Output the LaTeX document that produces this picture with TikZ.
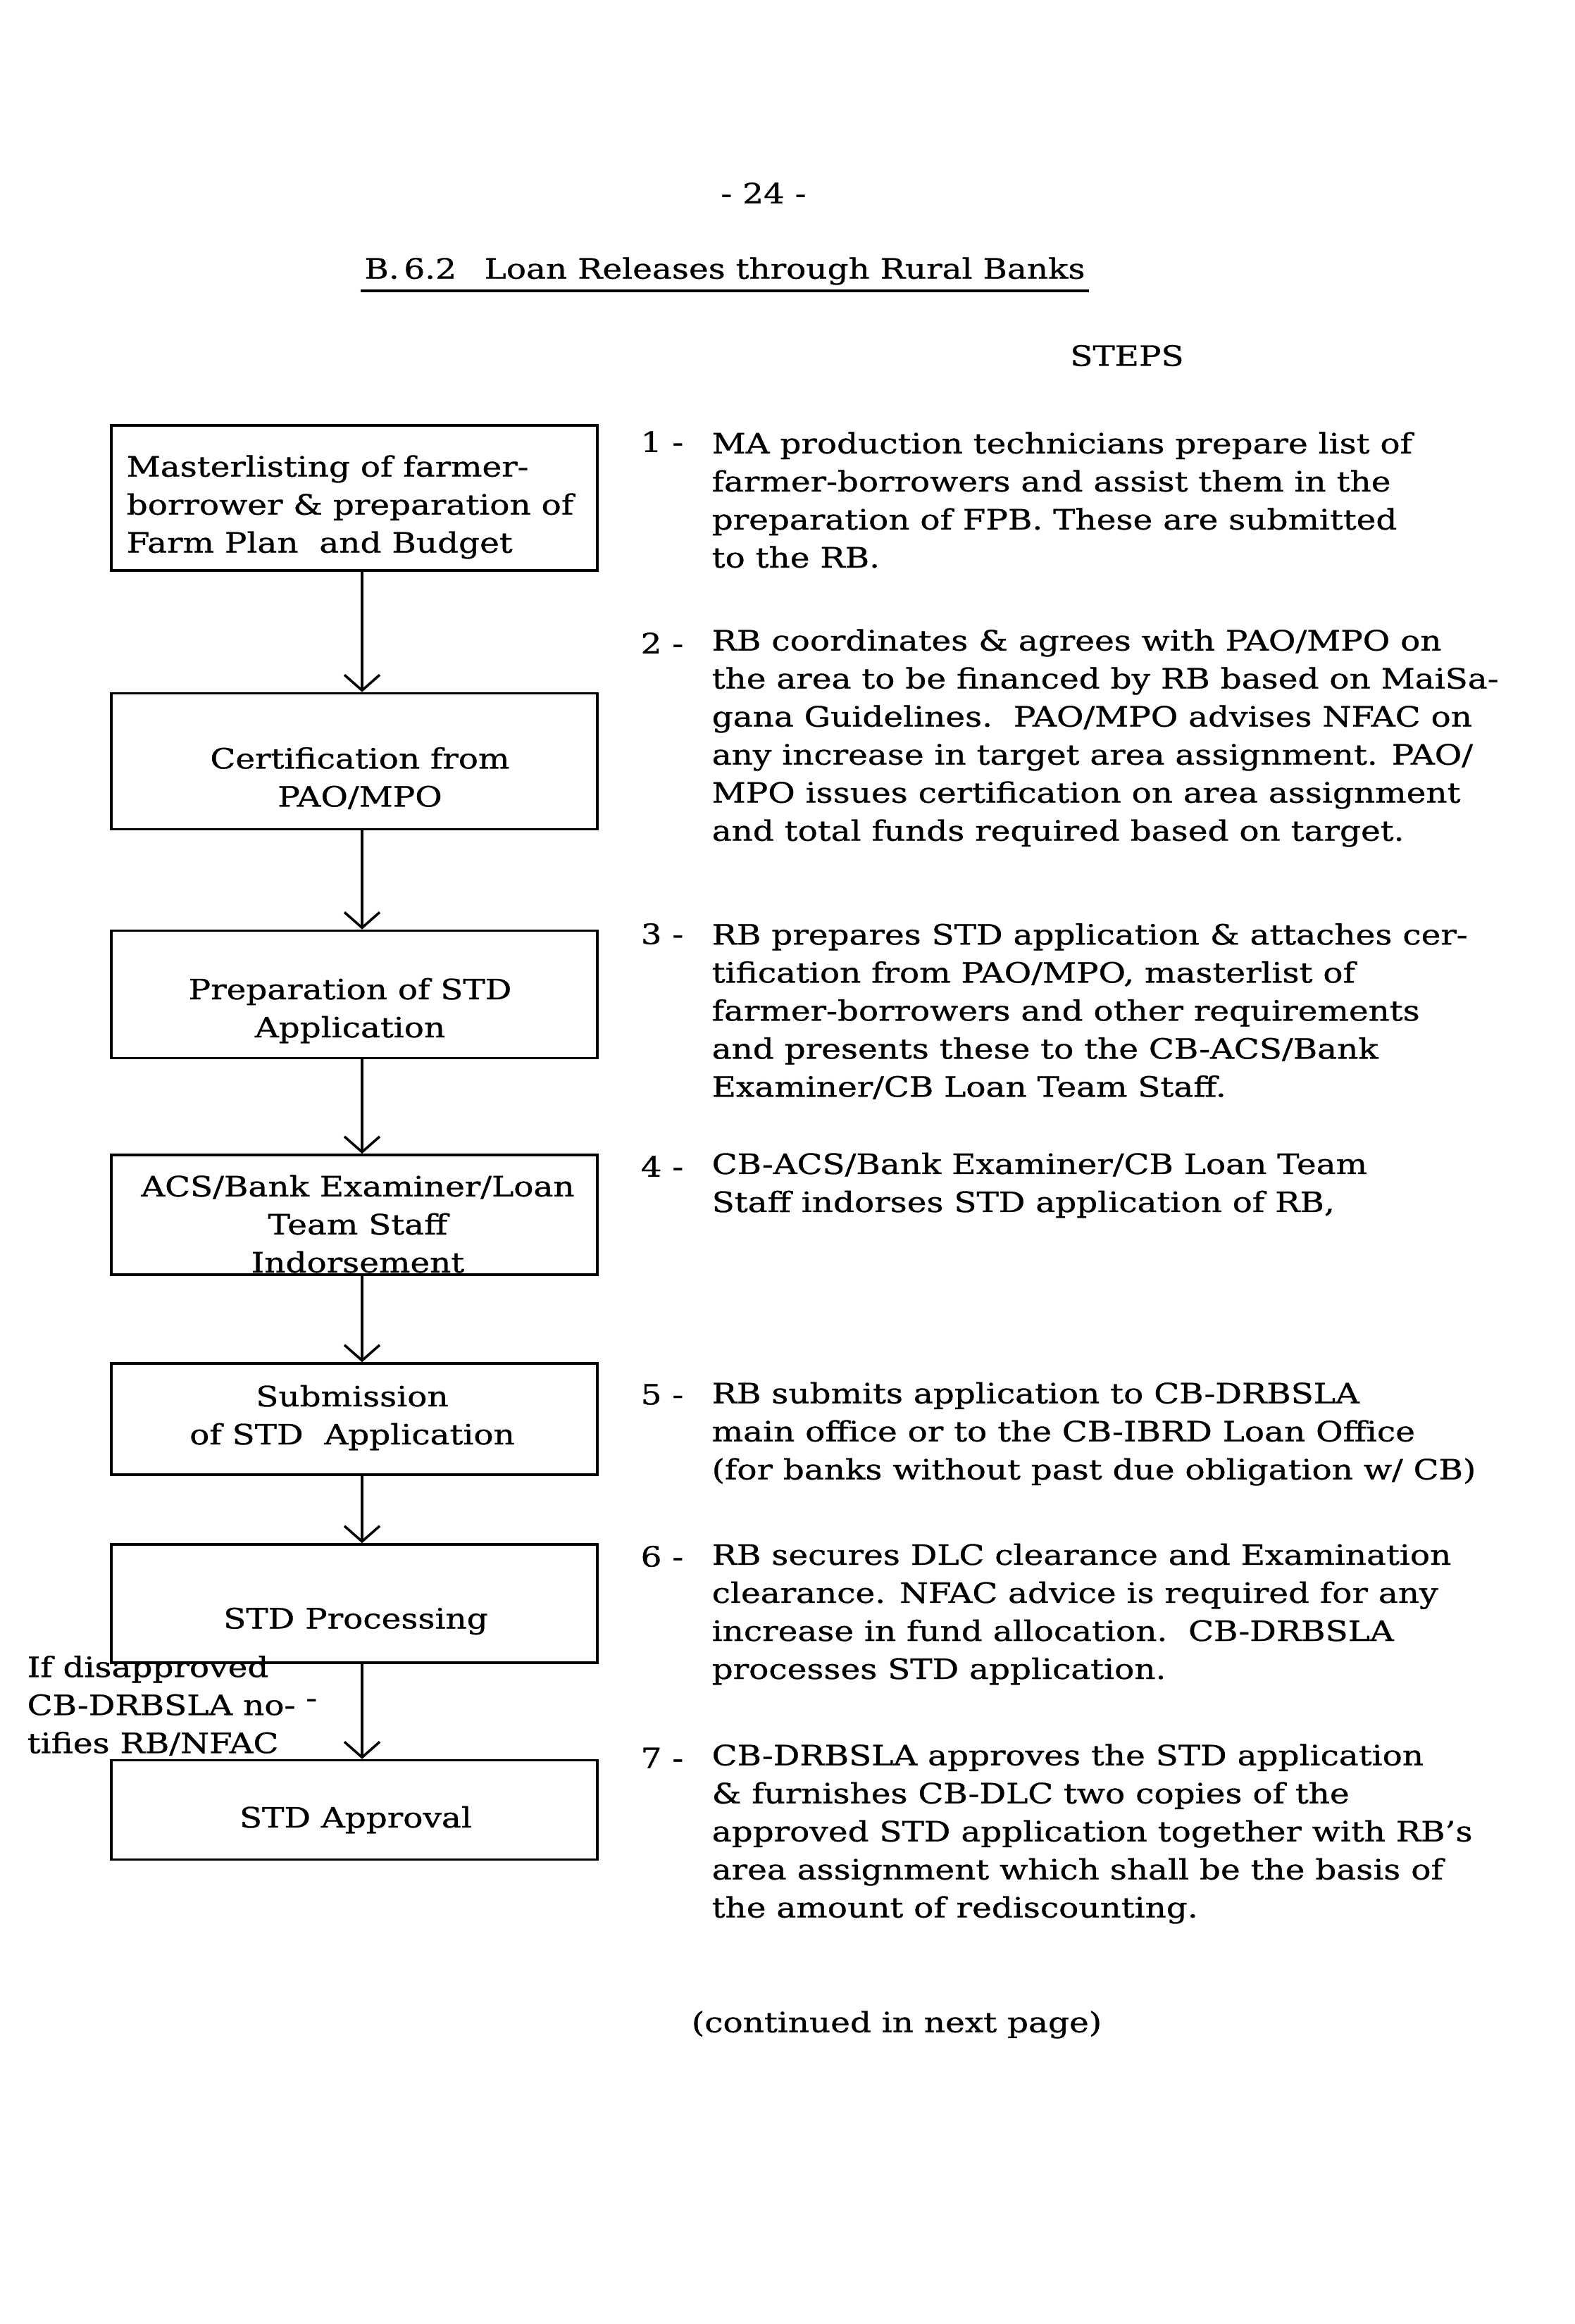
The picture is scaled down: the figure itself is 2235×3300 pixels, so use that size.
\documentclass[tikz,border=0pt]{standalone}
\usepackage{fontspec}
\setmainfont[FakeStretch=1.18,FakeBold=0.8]{DejaVu Serif}
\usetikzlibrary{arrows.meta,calc}
\newcommand\ftxt{\fontsize{11.3pt}{15.36pt}\selectfont}
\begin{document}
\begin{tikzpicture}[x=0.01cm,y=-0.01cm,
  every node/.style={font=\ftxt, inner sep=0pt},
  box/.style={draw, line width=1pt, minimum width=6.9cm},
  boxtext/.style={align=center},
  para/.style={anchor=west, align=left},
  num/.style={anchor=west},
  arr/.style={line width=1pt, -{Straight Barb[length=2.2mm,width=5mm,line width=1pt]}}]
\useasboundingbox (0,0) rectangle (2235,3300);
\fill[white] (0,0) rectangle (2235,3300);

% header
\node (pg) at (1084,274) {- 24 -};
\node (title) at (1029,385) {B.\,6.2\quad Loan Releases through Rural Banks};
\draw[line width=1.2pt] ($(title.south west)+(-5,8)$) -- ($(title.south east)+(5,8)$);
\node (steps) at (1600,505) {STEPS};

% boxes
\node[box, minimum height=2.06cm] (b1) at (503,707) {};
\node[box, minimum height=1.93cm] (b2) at (503,1081) {};
\node[box, minimum height=1.81cm] (b3) at (503,1412) {};
\node[box, minimum height=1.70cm] (b4) at (503,1725) {};
\node[box, minimum height=1.58cm] (b5) at (503,2015) {};
\node[box, minimum height=1.68cm] (b6) at (503,2277) {};
\node[box, minimum height=1.41cm] (b7) at (503,2570) {};

% box texts
\node[align=left] (b1t) at (497,720) {Masterlisting of farmer-\\borrower \& preparation of\\Farm Plan\ \ and Budget};
\node[boxtext] (b2t) at (511,1105) {Certification from\\PAO/MPO};
\node[boxtext] (b3t) at (497,1435) {Preparation of STD\\Application};
\node[boxtext] (b4t) at (508,1738) {ACS/Bank Examiner/Loan\\Team Staff\\Indorsement};
\node[boxtext] (b5t) at (500,2013) {Submission\\of STD\ \ Application};
\node[boxtext] (b6t) at (505,2302) {STD Processing};
\node[boxtext] (b7t) at (505,2584) {STD Approval};

% side note
\node[para] (note) at (38,2422) {If disapproved\\CB-DRBSLA no-\ \raisebox{0.5ex}{-}\\tifies RB/NFAC};

% connectors
\foreach \a/\b in {b1/b2,b2/b3,b3/b4,b4/b5,b5/b6,b6/b7}
  \draw[arr] ($(\a.south)+(11,0)$) -- ($(\b.north)+(11,0)$);

% steps
\node[num] (n1) at (909,627) {1 -};
\node[para] (s1) at (1010,710) {MA production technicians prepare list of\\farmer-borrowers and assist them in the\\preparation of FPB. These are submitted\\to the RB.};
\node[num] (n2) at (909,913) {2 -};
\node[para] (s2) at (1010,1048) {RB coordinates \& agrees with PAO/MPO on\\the area to be financed by RB based on MaiSa-\\gana Guidelines.\ \ PAO/MPO advises NFAC on\\any increase in target area assignment. PAO/\\MPO issues certification on area assignment\\and total funds required based on target.};
\node[num] (n3) at (909,1326) {3 -};
\node[para] (s3) at (1010,1436) {RB prepares STD application \& attaches cer-\\tification from PAO/MPO, masterlist of\\farmer-borrowers and other requirements\\and presents these to the CB-ACS/Bank\\Examiner/CB Loan Team Staff.};
\node[num] (n4) at (909,1656) {4 -};
\node[para] (s4) at (1010,1683) {CB-ACS/Bank Examiner/CB Loan Team\\Staff indorses STD application of RB,};
\node[num] (n5) at (909,1980) {5 -};
\node[para] (s5) at (1010,2036) {RB submits application to CB-DRBSLA\\main office or to the CB-IBRD Loan Office\\(for banks without past due obligation w/ CB)};
\node[num] (n6) at (909,2210) {6 -};
\node[para] (s6) at (1010,2292) {RB secures DLC clearance and Examination\\clearance. NFAC advice is required for any\\increase in fund allocation.\ \ CB-DRBSLA\\processes STD application.};
\node[num] (n7) at (909,2496) {7 -};
\node[para] (s7) at (1010,2604) {CB-DRBSLA approves the STD application\\\& furnishes CB-DLC two copies of the\\approved STD application together with RB's\\area assignment which shall be the basis of\\the amount of rediscounting.};

\node (cont) at (1273,2875) {(continued in next page)};
\end{tikzpicture}
\end{document}
